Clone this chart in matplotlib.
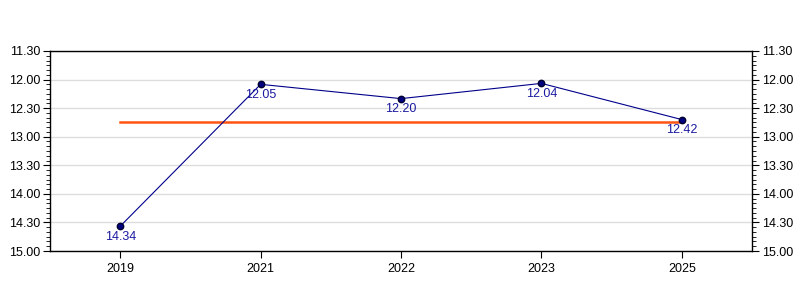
import matplotlib.pyplot as plt
from matplotlib.ticker import FuncFormatter, MultipleLocator
import numpy as np

plt.rcParams['font.family'] = ['Liberation Sans', 'DejaVu Sans']

years = ['2019', '2021', '2022', '2023', '2025']
times = ['14.34', '12.05', '12.20', '12.04', '12.42']


def to_sec(t):
    m, s = t.split('.')
    return int(m) * 60 + int(s)


def fmt(v, pos):
    v = int(round(v))
    return '%d.%02d' % (v // 60, v % 60)


secs = [to_sec(t) for t in times]
avg = np.mean(secs)
x = np.arange(len(years))

fig = plt.figure(figsize=(8, 3), dpi=100)
ax = fig.add_axes([0.0625, 0.1633, 0.8775, 0.6667])

ax.plot([x[0], x[-1]], [avg, avg], color='#ff5511', lw=1.8, zorder=2)
ax.plot(x, secs, color='#00008b', lw=0.8, marker='o', ms=4.6,
        mfc='#000080', mec='#000030', zorder=3)
for i, t in enumerate(times):
    ax.annotate(t, (x[i], secs[i]), xytext=(0, -3.5), textcoords='offset points',
                ha='center', va='top', fontsize=9, color='#1a1aa0')

ax.set_xlim(-0.5, 4.5)
ax.set_ylim(to_sec('15.00'), to_sec('11.30'))
ax.set_xticks(x)
ax.set_xticklabels(years)
ax.yaxis.set_major_locator(MultipleLocator(30))
ax.yaxis.set_minor_locator(MultipleLocator(5))
ax.yaxis.set_major_formatter(FuncFormatter(fmt))
ax.grid(axis='y', color='#dddddd', lw=1, zorder=0)
ax.set_axisbelow(True)
ax.tick_params(axis='y', which='both', left=True, right=True, labelleft=True,
               labelright=True, labelsize=9, direction='out')
ax.tick_params(axis='y', which='major', length=5, pad=2)
ax.tick_params(axis='y', which='minor', length=3)
ax.tick_params(axis='x', labelsize=9, length=5)
for s in ax.spines.values():
    s.set_linewidth(1)

fig.savefig('out.png', dpi=100)
